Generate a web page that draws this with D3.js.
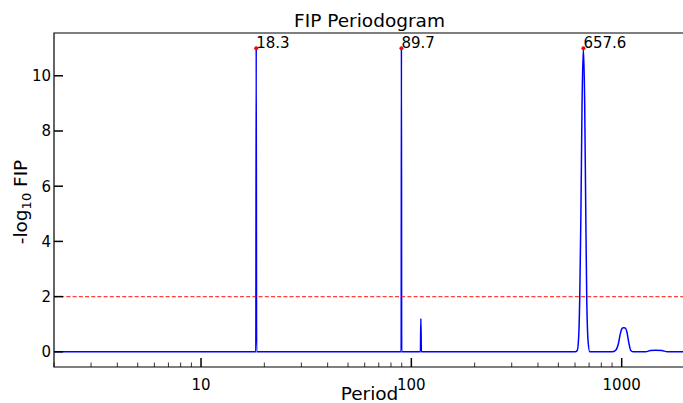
<!DOCTYPE html>
<html><head><meta charset="utf-8">
<script src="https://cdn.jsdelivr.net/npm/d3@7"></script>
<style>body{margin:0;background:#fff}svg{display:block;font-family:"DejaVu Sans",sans-serif}</style>
</head><body><svg id="c" width="683" height="403"></svg>
<script>
// Periodogram curve: period and -log10 FIP value
const periods = [2, 18.22, 18.3, 18.38, 89.45, 89.7, 89.95, 110.4, 111, 111.6,
  600, 615, 625, 632, 640, 648, 657.6, 667, 675, 682, 692, 705,
  900, 935, 965, 985, 1000, 1015, 1040, 1060, 1080, 1105, 1140,
  1300, 1370, 1450, 1550, 1650, 2000];
const values = [0, 0, 11, 0, 0, 11, 0, 0, 1.2, 0,
  0, 0.05, 0.6, 2, 5, 9, 11, 9, 5, 2, 0.4, 0,
  0, 0.05, 0.3, 0.65, 0.82, 0.87, 0.86, 0.7, 0.35, 0.05, 0,
  0, 0.05, 0.06, 0.05, 0, 0];
const peakPeriods = [18.3, 89.7, 657.6];
const peakValues = [11, 11, 11];
const peakLabels = ["18.3", "89.7", "657.6"];
const threshold = 2;
const yTicks = [0, 2, 4, 6, 8, 10];
const xTicks = [10, 100, 1000];

const svg = d3.select("#c");
const L = 54, R = 685, T = 33, B = 367;
const x = d3.scaleLog().domain([2, 2000]).range([L, R]);
const y = d3.scaleLinear().domain([-0.55, 11.55]).range([B, T]);

svg.append("defs").append("clipPath").attr("id", "clip")
  .append("rect").attr("x", L).attr("y", T).attr("width", R - L).attr("height", B - T);

const data = periods.map((p, i) => [p, values[i]]);
const line = d3.line().x(d => x(d[0])).y(d => y(d[1])).curve(d3.curveMonotoneX);
const g = svg.append("g").attr("clip-path", "url(#clip)");
g.append("path").datum(data).attr("d", line).attr("fill", "none")
  .attr("stroke", "#0000ff").attr("stroke-width", 1.5);

// ticks
const minor = [];
for (let d = 1; d <= 1000; d *= 10) for (let k = 1; k < 10; k++) { const v = d * k; if (v >= 2 && v <= 2000) minor.push(v); }
svg.append("g").selectAll("line").data(minor.filter(v => !xTicks.includes(v))).join("line")
  .attr("x1", d => x(d)).attr("x2", d => x(d)).attr("y1", B).attr("y2", B - 4.5)
  .attr("stroke", "#000").attr("stroke-width", 0.8);
svg.append("g").selectAll("line").data(xTicks).join("line")
  .attr("x1", d => x(d)).attr("x2", d => x(d)).attr("y1", B).attr("y2", B - 9)
  .attr("stroke", "#000").attr("stroke-width", 1.5);
svg.append("g").selectAll("text").data(xTicks).join("text")
  .attr("x", d => x(d)).attr("y", B + 23).attr("text-anchor", "middle")
  .attr("font-size", 15).text(d => d);
svg.append("g").selectAll("line").data(yTicks).join("line")
  .attr("x1", L).attr("x2", L + 9).attr("y1", d => y(d)).attr("y2", d => y(d))
  .attr("stroke", "#000").attr("stroke-width", 1.5);
svg.append("g").selectAll("text").data(yTicks).join("text")
  .attr("x", L - 3).attr("y", d => y(d)).attr("dy", "0.36em").attr("text-anchor", "end")
  .attr("font-size", 15).text(d => d);

// threshold line
g.append("line").attr("x1", L).attr("x2", R).attr("y1", y(threshold)).attr("y2", y(threshold))
  .attr("stroke", "#ff0000").attr("stroke-opacity", 0.75).attr("stroke-width", 1.2)
  .attr("stroke-dasharray", "4,2.2");

// peaks
svg.append("g").selectAll("circle").data(peakPeriods).join("circle")
  .attr("cx", d => x(d)).attr("cy", (d, i) => y(peakValues[i])).attr("r", 2).attr("fill", "#ff0000");
svg.append("g").selectAll("text").data(peakPeriods).join("text")
  .attr("x", d => x(d)).attr("y", (d, i) => y(peakValues[i])).attr("font-size", 15)
  .text((d, i) => peakLabels[i]);

// spines
svg.append("path").attr("d", `M${L},${T}V${B}H${R}V${T}Z`).attr("fill", "none")
  .attr("stroke", "#000").attr("stroke-width", 1.2);

svg.append("text").attr("x", (L + R) / 2).attr("y", 27).attr("text-anchor", "middle")
  .attr("font-size", 18.5).text("FIP Periodogram");
svg.append("text").attr("x", (L + R) / 2).attr("y", 400).attr("text-anchor", "middle")
  .attr("font-size", 18.5).text("Period");
const yl = svg.append("text").attr("transform", `translate(27,${(T + B) / 2 + 2}) rotate(-90)`)
  .attr("text-anchor", "middle").attr("font-size", 18.5);
yl.append("tspan").text("-log");
yl.append("tspan").attr("font-size", 13).attr("dy", 4).text("10");
yl.append("tspan").attr("dy", -4).text(" FIP");
</script></body></html>
